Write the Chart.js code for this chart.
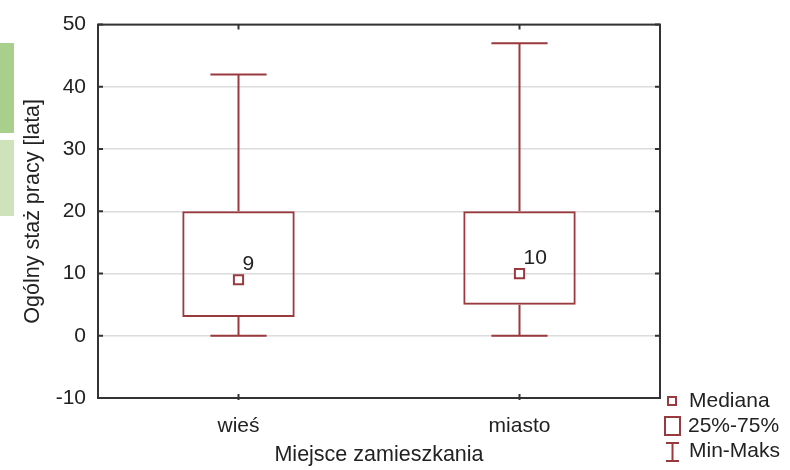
<!DOCTYPE html>
<html>
<head>
<meta charset="utf-8">
<script src="https://cdn.jsdelivr.net/npm/chart.js@4"></script>
<style>
  html, body { margin: 0; padding: 0; background: #fff; }
  #wrap { position: relative; width: 790px; height: 470px; }
  .tab { position: absolute; left: 0; width: 14px; }
  .tab1 { top: 43px; height: 90px; background: #a9cf8d; }
  .tab2 { top: 140px; height: 76px; background: #cfe3bb; }
</style>
</head>
<body>
<div id="wrap">
  <canvas id="chart" width="790" height="470"></canvas>
  <div class="tab tab1"></div>
  <div class="tab tab2"></div>
</div>
<script>
// Data
const categories = ["wieś", "miasto"];
const minVals = [0, 0];
const q1Vals = [3, 5];
const medians = [9, 10];
const q3Vals = [20, 20];
const maxVals = [42, 47];
const legendLabels = ["Mediana", "25%-75%", "Min-Maks"];

const RED = '#993a3f';
const FONT = 'Arial, "Liberation Sans", sans-serif';
const TXT = '#222';

// whiskers, median labels, frame, inside ticks, legend
const boxExtras = {
  id: 'boxExtras',
  beforeDatasetsDraw(chart) {
    const { ctx, scales: { x, y } } = chart;
    const bars = chart.getDatasetMeta(0).data;
    ctx.save();
    ctx.strokeStyle = RED;
    ctx.lineWidth = 2;
    categories.forEach((c, i) => {
      const cx = x.getPixelForValue(i);
      const half = bars[i].width / 4;
      const yMin = y.getPixelForValue(minVals[i]);
      const yMax = y.getPixelForValue(maxVals[i]);
      const yQ1 = y.getPixelForValue(q1Vals[i]);
      const yQ3 = y.getPixelForValue(q3Vals[i]);
      ctx.beginPath();
      ctx.moveTo(cx, yQ3); ctx.lineTo(cx, yMax);
      ctx.moveTo(cx - half, yMax); ctx.lineTo(cx + half, yMax);
      ctx.moveTo(cx, yQ1); ctx.lineTo(cx, yMin);
      ctx.moveTo(cx - half, yMin); ctx.lineTo(cx + half, yMin);
      ctx.stroke();
    });
    ctx.restore();
  },
  afterDatasetsDraw(chart) {
    const { ctx, chartArea: a, scales: { x, y } } = chart;
    ctx.save();
    // median value labels
    ctx.fillStyle = TXT;
    ctx.font = '21px ' + FONT;
    ctx.textAlign = 'left';
    ctx.textBaseline = 'alphabetic';
    medians.forEach((m, i) => {
      const px = x.getPixelForValue(i);
      const py = y.getPixelForValue(m);
      ctx.fillText(String(m), px + 4, py - 10);
    });

    // frame
    ctx.strokeStyle = '#333';
    ctx.lineWidth = 2;
    ctx.strokeRect(a.left, a.top, a.right - a.left, a.bottom - a.top);

    // inward ticks
    ctx.beginPath();
    y.ticks.forEach(t => {
      const py = y.getPixelForValue(t.value);
      ctx.moveTo(a.left, py); ctx.lineTo(a.left + 5, py);
      ctx.moveTo(a.right, py); ctx.lineTo(a.right - 5, py);
    });
    categories.forEach((c, i) => {
      const px = x.getPixelForValue(i);
      ctx.moveTo(px, a.top); ctx.lineTo(px, a.top + 5);
      ctx.moveTo(px, a.bottom + 2); ctx.lineTo(px, a.bottom - 4);
    });
    ctx.stroke();

    // legend
    const lx = a.right + 4;
    ctx.strokeStyle = RED;
    ctx.lineWidth = 2;
    ctx.strokeRect(lx + 4, 397, 8, 8);
    ctx.strokeRect(lx + 1, 417, 15, 18);
    ctx.beginPath();
    ctx.moveTo(lx + 2, 443); ctx.lineTo(lx + 15, 443);
    ctx.moveTo(lx + 8.5, 443); ctx.lineTo(lx + 8.5, 461);
    ctx.moveTo(lx + 2, 461); ctx.lineTo(lx + 15, 461);
    ctx.stroke();
    ctx.fillStyle = TXT;
    ctx.textBaseline = 'middle';
    ctx.fillText(legendLabels[0], lx + 25, 401);
    ctx.fillText(legendLabels[1], lx + 24, 426);
    ctx.fillText(legendLabels[2], lx + 25, 451);
    ctx.restore();
  }
};

new Chart(document.getElementById('chart'), {
  type: 'bar',
  data: {
    labels: categories,
    datasets: [
      {
        type: 'bar',
        data: q1Vals.map((q, i) => [q, q3Vals[i]]),
        backgroundColor: 'rgba(0,0,0,0)',
        borderColor: RED,
        borderWidth: 2,
        borderSkipped: false,
        barPercentage: 0.4,
        categoryPercentage: 1
      },
      {
        type: 'line',
        data: medians,
        showLine: false,
        pointStyle: 'rect',
        pointRadius: 6.5,
        pointBorderWidth: 2,
        pointBorderColor: RED,
        pointBackgroundColor: '#fff'
      }
    ]
  },
  options: {
    responsive: false,
    animation: false,
    events: [],
    layout: { padding: { top: 22, right: 130, left: 20, bottom: 0 } },
    plugins: { legend: { display: false }, tooltip: { enabled: false } },
    scales: {
      x: {
        offset: true,
        grid: { display: false, drawTicks: false },
        border: { display: false },
        ticks: { color: TXT, font: { size: 21, family: FONT }, padding: 16 },
        title: {
          display: true, text: 'Miejsce zamieszkania', color: TXT,
          font: { size: 21.5, family: FONT }, padding: { top: 0, bottom: 2 }
        },
        afterFit(s) { s.height = 72; }
      },
      y: {
        min: -10, max: 50,
        grid: { color: '#dcdcdc', lineWidth: 1.5, drawTicks: false },
        border: { display: false },
        ticks: { stepSize: 10, color: TXT, font: { size: 21, family: FONT }, padding: 12 },
        title: {
          display: true, text: 'Ogólny staż pracy [lata]', color: TXT,
          font: { size: 21.5, family: FONT }, padding: { top: 0, bottom: 0 }
        },
        afterFit(s) { s.width = 78; }
      }
    }
  },
  plugins: [boxExtras]
});
</script>
</body>
</html>
